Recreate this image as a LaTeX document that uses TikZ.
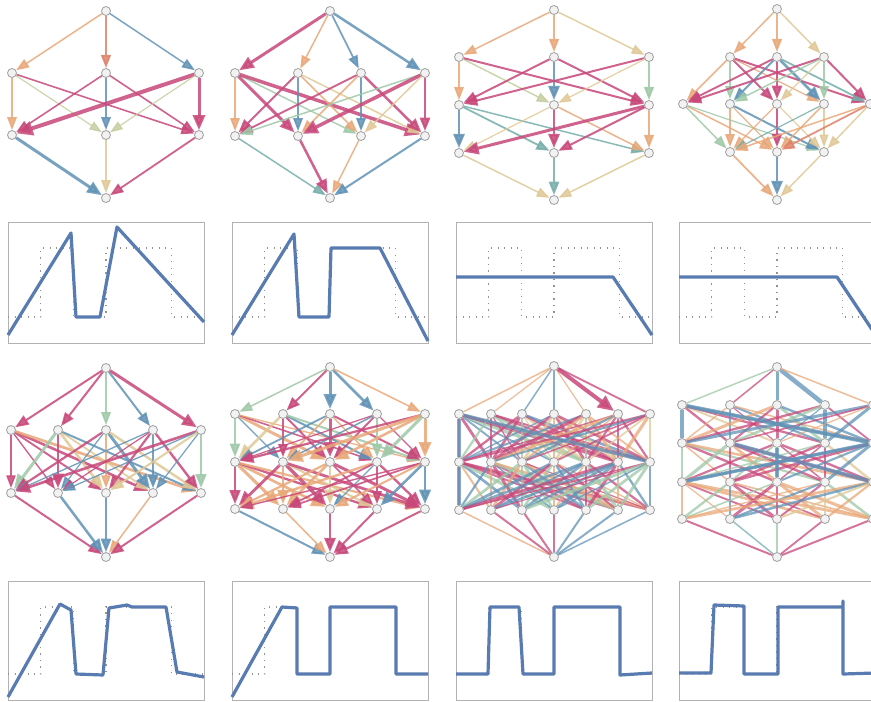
\documentclass[tikz,border=0pt]{standalone}
\usetikzlibrary{arrows.meta}
\definecolor{mag}{RGB}{200,72,122}
\definecolor{blu}{RGB}{96,146,182}
\definecolor{ora}{RGB}{233,168,120}
\definecolor{grn}{RGB}{158,200,168}
\definecolor{tan}{RGB}{224,200,150}
\definecolor{oli}{RGB}{196,206,160}
\definecolor{tea}{RGB}{118,174,170}
\definecolor{sal}{RGB}{222,130,105}
\definecolor{crv}{RGB}{88,124,178}
\pgfdeclarelayer{bg}
\pgfsetlayers{bg,main}
\newcommand{\lay}[4]{\foreach \xx [count=\ii] in {#4} \node[nd] (#1#2\ii) at (\xx,#3) {};}
\newcommand{\ed}[5][e]{\draw[#1,color=#4,line width=#5pt] (#2) -- (#3);}
\newcommand{\rndedge}[3]{%
  \pgfmathrandominteger{\rc}{1}{10}%
  \pgfmathrandominteger{\rw}{12}{32}%
  \ifcase\rc\or\def\ec{mag}\or\def\ec{mag}\or\def\ec{mag}\or\def\ec{blu}\or\def\ec{blu}\or\def\ec{ora}\or\def\ec{ora}\or\def\ec{grn}\or\def\ec{tan}\or\def\ec{mag}\fi
  \draw[#3,color=\ec,line width=\rw*0.1pt] (#1) -- (#2);}
\newcommand{\full}[6]{\foreach \i in {1,...,#3}{\foreach \j in {1,...,#5}{\rndedge{#1#2\i}{#1#4\j}{#6}}}}
\newcommand{\tg}[3]{\draw[tgt] (#1,#3) -- ({#1+32.67},#3) -- ({#1+32.67},#2) -- ({#1+65.33},#2) -- ({#1+65.33},#3) -- ({#1+98},#3) -- ({#1+98},#2) -- ({#1+163.33},#2) -- ({#1+163.33},#3) -- ({#1+196},#3);}
\begin{document}
\begin{tikzpicture}[x=1pt,y=-1pt,
 nd/.style={circle,draw=gray!75,fill=gray!10,line width=0.8pt,minimum size=9pt,inner sep=0pt},
 e/.style={opacity=0.85,-{Triangle[length=11pt 1.3,width=7pt 1.7]}},
 enh/.style={opacity=0.75},
 box/.style={draw=gray!60,line width=0.7pt},
 tgt/.style={draw=gray!85,line width=1.3pt,dash pattern=on 1.2pt off 5.3pt},
 crvs/.style={draw=crv,line width=3.2pt,line join=round}]
\useasboundingbox (0,0) rectangle (871,702);
\clip (0,0) rectangle (871,702);
\pgfmathsetseed{4242}
% ---------- Graph 1
\lay{g1}{a}{11}{106}
\lay{g1}{b}{73}{12,106,199}
\lay{g1}{c}{135}{12,106,199}
\lay{g1}{d}{198}{106}
% ---------- Graph 2
\lay{g2}{a}{11}{330}
\lay{g2}{b}{73}{235,298,361,425}
\lay{g2}{c}{136}{235,298,361,425}
\lay{g2}{d}{198}{330}
% ---------- Graph 3
\lay{g3}{a}{10}{554}
\lay{g3}{b}{57}{459,554,649}
\lay{g3}{c}{105}{459,554,649}
\lay{g3}{e}{153}{459,554,649}
\lay{g3}{d}{200}{554}
% ---------- Graph 4
\lay{g4}{a}{9}{777}
\lay{g4}{b}{57}{730,777,824}
\lay{g4}{c}{104}{683,730,777,824,870}
\lay{g4}{e}{152}{730,777,824}
\lay{g4}{d}{200}{777}
% ---------- Graph 5
\lay{g5}{a}{368}{106}
\lay{g5}{b}{430}{11,58,106,153,201}
\lay{g5}{c}{493}{11,58,106,153,201}
\lay{g5}{d}{557}{106}
% ---------- Graph 6
\lay{g6}{a}{367}{330}
\lay{g6}{b}{414}{235,283,330,377,425}
\lay{g6}{c}{462}{235,283,330,377,425}
\lay{g6}{e}{509}{235,283,330,377,425}
\lay{g6}{d}{557}{330}
% ---------- Graph 7
\lay{g7}{a}{366}{554}
\lay{g7}{b}{414}{459,491,522,554,586,618,650}
\lay{g7}{c}{462}{459,491,522,554,586,618,650}
\lay{g7}{e}{510}{459,491,522,554,586,618,650}
\lay{g7}{d}{557}{554}
% ---------- Graph 8
\lay{g8}{a}{367}{777}
\lay{g8}{b}{405}{682,730,777,825,873}
\lay{g8}{c}{443}{682,730,777,825,873}
\lay{g8}{e}{482}{682,730,777,825,873}
\lay{g8}{f}{519}{682,730,777,825,873}
\lay{g8}{d}{557}{777}

\begin{pgfonlayer}{bg}
\fill[white] (0,0) rectangle (871,702);
% G1
\ed{g1a1}{g1b1}{ora}{1.5}\ed{g1a1}{g1b2}{sal}{1.8}\ed{g1a1}{g1b3}{blu}{1.5}
\ed{g1b1}{g1c1}{ora}{1.5}\ed{g1b1}{g1c2}{oli}{1.2}\ed{g1b1}{g1c3}{mag}{1.6}
\ed{g1b2}{g1c1}{mag}{1.6}\ed{g1b2}{g1c2}{blu}{1.5}\ed{g1b2}{g1c3}{mag}{1.6}
\ed{g1b3}{g1c1}{mag}{4}\ed{g1b3}{g1c2}{oli}{1.2}\ed{g1b3}{g1c3}{mag}{3}
\ed{g1c1}{g1d1}{blu}{3}\ed{g1c2}{g1d1}{tan}{1.5}\ed{g1c3}{g1d1}{mag}{1.8}
% G2
\ed{g2a1}{g2b1}{mag}{3}\ed{g2a1}{g2b2}{ora}{1.5}\ed{g2a1}{g2b3}{blu}{1.6}\ed{g2a1}{g2b4}{blu}{2.5}
\ed{g2b1}{g2c1}{ora}{1.5}\ed{g2b1}{g2c2}{mag}{3}\ed{g2b1}{g2c3}{grn}{1.5}\ed{g2b1}{g2c4}{mag}{3.5}
\ed{g2b2}{g2c1}{mag}{2}\ed{g2b2}{g2c2}{blu}{1.5}\ed{g2b2}{g2c3}{ora}{1.5}\ed{g2b2}{g2c4}{tan}{1.5}
\ed{g2b3}{g2c1}{mag}{1.8}\ed{g2b3}{g2c2}{ora}{1.5}\ed{g2b3}{g2c3}{blu}{1.5}\ed{g2b3}{g2c4}{mag}{2.5}
\ed{g2b4}{g2c1}{grn}{1.5}\ed{g2b4}{g2c2}{mag}{3.5}\ed{g2b4}{g2c3}{tan}{1.5}\ed{g2b4}{g2c4}{mag}{2}
\ed{g2c1}{g2d1}{tea}{1.5}\ed{g2c2}{g2d1}{mag}{2.5}\ed{g2c3}{g2d1}{ora}{1.5}\ed{g2c4}{g2d1}{blu}{2}
% G3
\ed{g3a1}{g3b1}{ora}{1.5}\ed{g3a1}{g3b2}{ora}{1.8}\ed{g3a1}{g3b3}{tan}{1.5}
\ed{g3b1}{g3c1}{ora}{1.5}\ed{g3b1}{g3c2}{oli}{1.5}\ed{g3b1}{g3c3}{mag}{2}
\ed{g3b2}{g3c1}{mag}{2}\ed{g3b2}{g3c2}{blu}{2.5}\ed{g3b2}{g3c3}{mag}{2}
\ed{g3b3}{g3c1}{mag}{2}\ed{g3b3}{g3c2}{tan}{1.2}\ed{g3b3}{g3c3}{grn}{1.8}
\ed{g3c1}{g3e1}{blu}{2.5}\ed{g3c1}{g3e2}{tea}{1.8}\ed{g3c1}{g3e3}{tea}{1.5}
\ed{g3c2}{g3e1}{tan}{1.2}\ed{g3c2}{g3e2}{mag}{2.5}\ed{g3c2}{g3e3}{ora}{1.5}
\ed{g3c3}{g3e1}{mag}{3}\ed{g3c3}{g3e2}{mag}{2}\ed{g3c3}{g3e3}{ora}{1.8}
\ed{g3e1}{g3d1}{tan}{1.5}\ed{g3e2}{g3d1}{tea}{2}\ed{g3e3}{g3d1}{tan}{1.5}
% G4
\ed{g4a1}{g4b1}{ora}{1.5}\ed{g4a1}{g4b2}{ora}{1.8}\ed{g4a1}{g4b3}{tan}{1.5}
\ed{g4b1}{g4c1}{ora}{1.5}\ed{g4b1}{g4c2}{grn}{1.5}\ed{g4b1}{g4c3}{mag}{2}\ed{g4b1}{g4c4}{ora}{1.2}\ed{g4b1}{g4c5}{mag}{2}
\ed{g4b2}{g4c1}{mag}{2}\ed{g4b2}{g4c2}{blu}{1.8}\ed{g4b2}{g4c3}{mag}{2}\ed{g4b2}{g4c4}{blu}{2.5}\ed{g4b2}{g4c5}{tea}{1.8}
\ed{g4b3}{g4c1}{mag}{2}\ed{g4b3}{g4c2}{grn}{1.5}\ed{g4b3}{g4c3}{tan}{1.2}\ed{g4b3}{g4c4}{grn}{1.5}\ed{g4b3}{g4c5}{mag}{2}
\ed{g4c1}{g4e1}{grn}{1.5}\ed{g4c1}{g4e2}{ora}{1.5}\ed{g4c1}{g4e3}{grn}{1.2}
\ed{g4c2}{g4e1}{ora}{1.5}\ed{g4c2}{g4e2}{ora}{1.2}\ed{g4c2}{g4e3}{blu}{2}
\ed{g4c3}{g4e1}{ora}{1.2}\ed{g4c3}{g4e2}{mag}{2}\ed{g4c3}{g4e3}{tan}{1.2}
\ed{g4c4}{g4e1}{tea}{1.2}\ed{g4c4}{g4e2}{ora}{1.5}\ed{g4c4}{g4e3}{tan}{1.2}
\ed{g4c5}{g4e1}{ora}{1.5}\ed{g4c5}{g4e2}{sal}{1.8}\ed{g4c5}{g4e3}{tan}{1.5}
\ed{g4e1}{g4d1}{ora}{1.8}\ed{g4e2}{g4d1}{blu}{2.5}\ed{g4e3}{g4d1}{tan}{1.5}
% G5
\ed{g5a1}{g5b1}{mag}{2}\ed{g5a1}{g5b2}{mag}{2}\ed{g5a1}{g5b3}{grn}{1.5}\ed{g5a1}{g5b4}{blu}{2}\ed{g5a1}{g5b5}{mag}{3}
\full{g5}{b}{5}{c}{5}{e}
\ed{g5c1}{g5d1}{mag}{2}\ed{g5c2}{g5d1}{blu}{2.5}\ed{g5c3}{g5d1}{blu}{2}\ed{g5c4}{g5d1}{ora}{1.5}\ed{g5c5}{g5d1}{mag}{2}
% G6
\ed{g6a1}{g6b1}{grn}{1.5}\ed{g6a1}{g6b2}{mag}{2}\ed{g6a1}{g6b3}{blu}{3}\ed{g6a1}{g6b4}{blu}{2.5}\ed{g6a1}{g6b5}{ora}{1.5}
\full{g6}{b}{5}{c}{5}{e}
\full{g6}{c}{5}{e}{5}{e}
\ed{g6e1}{g6d1}{blu}{2}\ed{g6e2}{g6d1}{ora}{1.5}\ed{g6e3}{g6d1}{mag}{2.5}\ed{g6e4}{g6d1}{mag}{2}\ed{g6e5}{g6d1}{mag}{2}
% G7
\ed[enh]{g7a1}{g7b1}{ora}{1.5}\ed[enh]{g7a1}{g7b2}{ora}{1.2}\ed[enh]{g7a1}{g7b3}{blu}{1.5}\ed[enh]{g7a1}{g7b4}{blu}{2}\ed[enh]{g7a1}{g7b5}{ora}{1.2}\ed[e]{g7a1}{g7b6}{mag}{4}\ed[enh]{g7a1}{g7b7}{mag}{2}
\full{g7}{b}{7}{c}{7}{enh}
\full{g7}{c}{7}{e}{7}{enh}
\ed[enh]{g7b1}{g7c1}{blu}{4.5}\ed[enh]{g7c1}{g7e1}{blu}{4}\ed[enh]{g7b1}{g7c7}{blu}{3.5}
\ed[enh]{g7e1}{g7d1}{ora}{1.5}\ed[enh]{g7e2}{g7d1}{mag}{2}\ed[enh]{g7e3}{g7d1}{mag}{2}\ed[enh]{g7e4}{g7d1}{mag}{2.5}\ed[enh]{g7e5}{g7d1}{blu}{2}\ed[enh]{g7e6}{g7d1}{blu}{2}\ed[enh]{g7e7}{g7d1}{blu}{1.5}
% G8
\ed[enh]{g8a1}{g8b1}{grn}{1.5}\ed[enh]{g8a1}{g8b2}{mag}{1.5}\ed[enh]{g8a1}{g8b3}{blu}{3}\ed[enh]{g8a1}{g8b4}{blu}{4.5}\ed[enh]{g8a1}{g8b5}{ora}{1.5}
\full{g8}{b}{5}{c}{5}{enh}
\full{g8}{c}{5}{e}{5}{enh}
\full{g8}{e}{5}{f}{5}{enh}
\ed[enh]{g8b1}{g8c5}{blu}{4}\ed[enh]{g8c2}{g8e5}{blu}{4}\ed[enh]{g8c5}{g8e1}{blu}{3.5}\ed[enh]{g8c3}{g8e3}{blu}{3.5}
\ed[enh]{g8f1}{g8d1}{mag}{2}\ed[enh]{g8f2}{g8d1}{tea}{1.5}\ed[enh]{g8f3}{g8d1}{grn}{1.5}\ed[enh]{g8f4}{g8d1}{mag}{1.8}\ed[enh]{g8f5}{g8d1}{mag}{2}
\end{pgfonlayer}

% ---------- Plots row 2
\foreach \x in {8,232,456,679} {\draw[box] (\x,222) rectangle ({\x+196},343); \tg{\x}{248}{317}}
\draw[crvs] (8,335) -- (71,233) -- (76,317) -- (100,317) -- (117,227) -- (204,322);
\draw[crvs] (232,335) -- (294,234) -- (299,317) -- (329,317) -- (331,248) -- (380,248) -- (428,341);
\draw[crvs] (456,277) -- (613,277) -- (652,335);
\draw[crvs] (679,277) -- (837,277) -- (875,334);
% ---------- Plots row 4
\foreach \x in {8,232,456,679} {\draw[box] (\x,581) rectangle ({\x+196},700); \tg{\x}{607}{674}}
\draw[crvs] (8,697) -- (60,604) -- (71,610) -- (76,674) -- (103,675) -- (109,608) -- (127,605) -- (132,607) -- (166,607) -- (177,672) -- (204,677);
\draw[crvs] (232,697) -- (282,607) -- (297,608) -- (297,674) -- (330,674) -- (330,607) -- (396,607) -- (396,674) -- (428,674);
\draw[crvs] (456,674) -- (488,674) -- (490,607) -- (519,607) -- (523,674) -- (554,674) -- (554,607) -- (620,607) -- (620,675) -- (652,673);
\draw[crvs] (679,673) -- (711,673) -- (714,605) -- (744,606) -- (744,674) -- (778,674) -- (778,607) -- (843,607) -- (843,601) -- (843,674) -- (875,673);
\end{tikzpicture}
\end{document}
